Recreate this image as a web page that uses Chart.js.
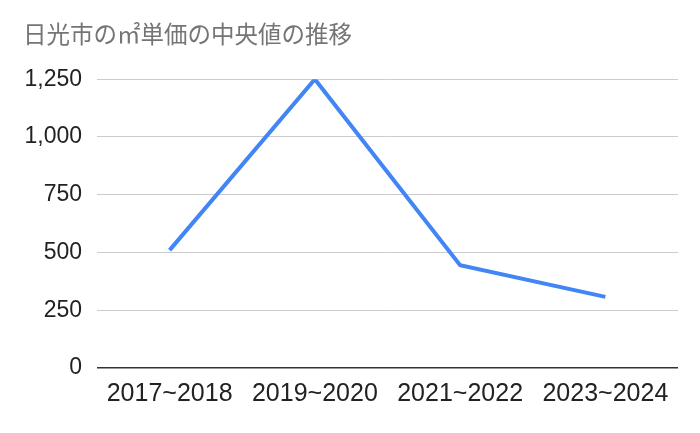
<!DOCTYPE html>
<html lang="ja">
<head>
    <meta charset="UTF-8">
    <title>日光市の㎡単価の中央値の推移</title>
    <script src="https://cdn.jsdelivr.net/npm/chart.js@4.4.1/dist/chart.umd.min.js"></script>
    <style>
        html, body { margin: 0; padding: 0; background: #fff; }
        #wrap { width: 700px; height: 433px; position: relative; }
    </style>
</head>
<body>
    <div id="wrap">
        <canvas id="myChart"></canvas>
    </div>
    <script>
        // データ
        var v_title = "日光市の㎡単価の中央値の推移";
        var v_labels = ["2017~2018", "2019~2020", "2021~2022", "2023~2024"];
        var v_values = [510, 1250, 445, 308];
        var v_yTicks = [0, 250, 500, 750, 1000, 1250];

        var v_font = "'Liberation Sans', Arial, sans-serif";

        const ctx = document.getElementById('myChart').getContext('2d');
        const myChart = new Chart(ctx, {
            type: 'line',
            data: {
                labels: v_labels,
                datasets: [{
                    data: v_values,
                    borderColor: '#4285F4',
                    backgroundColor: '#4285F4',
                    borderWidth: 4,
                    pointRadius: 0,
                    pointHoverRadius: 0,
                    tension: 0,
                    borderJoinStyle: 'miter'
                }]
            },
            options: {
                responsive: true,
                maintainAspectRatio: false,
                animation: false,
                devicePixelRatio: 1,
                layout: { padding: { left: 23, right: 22, top: 0, bottom: 0 } },
                plugins: {
                    legend: { display: false },
                    tooltip: { enabled: false },
                    title: {
                        display: true,
                        text: v_title,
                        align: 'start',
                        color: '#757575',
                        font: { family: "'Noto Sans CJK JP', 'Noto Sans', sans-serif", size: 23.5, weight: 'normal', lineHeight: 1.2 },
                        padding: { top: 20, bottom: 31 }
                    }
                },
                scales: {
                    x: {
                        offset: true,
                        grid: { display: false, drawTicks: false },
                        border: { display: false },
                        ticks: {
                            color: '#222',
                            font: { family: v_font, size: 25 },
                            padding: 11,
                            maxRotation: 0,
                            autoSkip: false
                        },
                        afterFit: function(scale){ scale.height = 65; }
                    },
                    y: {
                        min: v_yTicks[0],
                        max: v_yTicks[v_yTicks.length - 1],
                        afterBuildTicks: function(scale){
                            scale.ticks = v_yTicks.map(function(v){ return { value: v }; });
                        },
                        grid: {
                            drawTicks: false,
                            color: function(c){ return c.tick && c.tick.value === 0 ? '#333333' : '#cccccc'; },
                            lineWidth: function(c){ return c.tick && c.tick.value === 0 ? 1.5 : 1; }
                        },
                        border: { display: false },
                        ticks: {
                            color: '#222',
                            font: { family: v_font, size: 23 },
                            padding: 15,
                            callback: function(v){ return v.toLocaleString('en-US'); }
                        },
                        afterFit: function(scale){ scale.width = 74; }
                    }
                }
            }
        });
    </script>
</body>
</html>
